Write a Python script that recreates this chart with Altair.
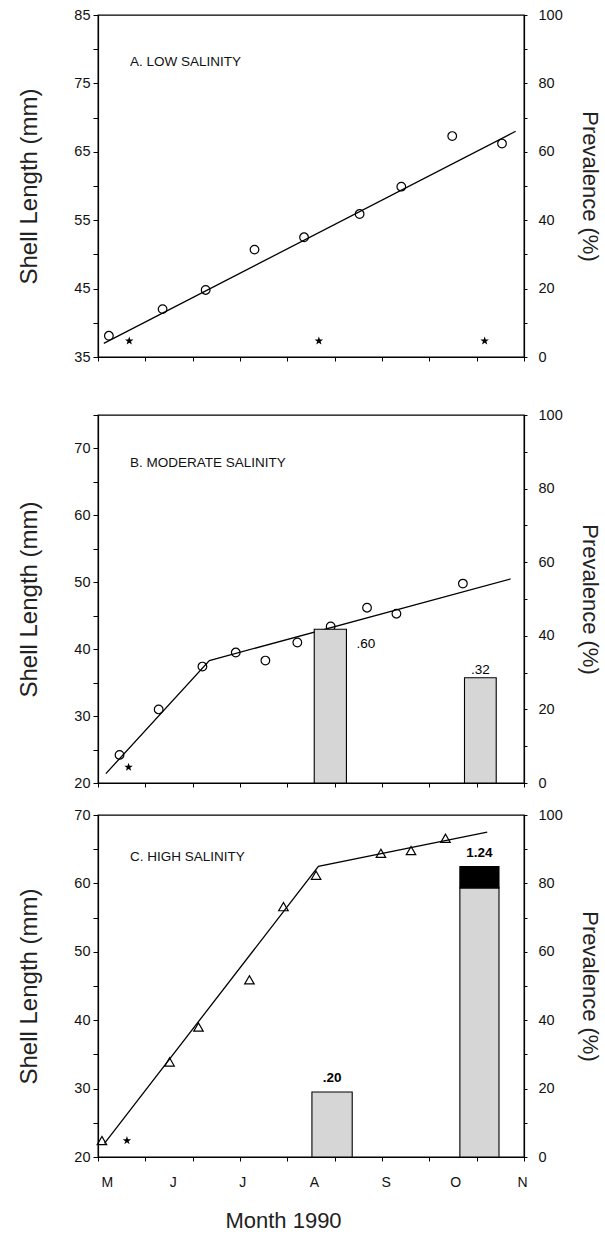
import altair as alt
import pandas as pd

# ---------------- data (x = days since 1 May 1990) ----------------
DAY_MAX = 184
month_pos = [0, 31, 61, 92, 123, 153, 184]
month_lab = ["M", "J", "J", "A", "S", "O", "N"]
x_ticks = [0, 20.4, 40.9, 61.3, 81.8, 102.2, 122.7, 143.1, 163.6, 184]

# Panel A: low salinity
a_day = [4.7, 27.9, 46.5, 67.6, 89.0, 113.0, 131.0, 153.0, 174.5]
a_len = [38.1, 42.0, 44.8, 50.7, 52.5, 55.9, 59.9, 67.3, 66.2]
a_fit_day = [2.5, 180.4]
a_fit_len = [37.0, 68.0]
a_star_day = [13.5, 95.4, 167.0]
a_star_prev = [4.7, 4.7, 4.7]

# Panel B: moderate salinity
b_day = [9.3, 26.2, 45.1, 59.5, 72.3, 86.1, 100.5, 116.2, 128.9, 157.6]
b_len = [24.2, 31.0, 37.4, 39.5, 38.3, 41.0, 43.4, 46.2, 45.3, 49.8]
b_fit_day = [3.4, 48.1, 178.2]
b_fit_len = [21.4, 38.3, 50.5]
b_star_day = [13.2]
b_star_prev = [4.3]
b_bar_start = [93.4, 158.3]
b_bar_end = [107.3, 172.0]
b_bar_prev = [41.8, 28.6]
b_bar_text = [".60", ".32"]

# Panel C: high salinity
c_day = [1.7, 30.9, 43.4, 65.4, 80.1, 94.2, 122.2, 135.2, 150.1]
c_len = [22.4, 33.9, 39.0, 45.9, 56.6, 61.2, 64.4, 64.8, 66.6]
c_fit_day = [2.8, 95.2, 168.1]
c_fit_len = [22.0, 62.5, 67.5]
c_star_day = [12.5]
c_star_prev = [4.8]
c_bar_start = [92.4, 156.3]
c_bar_end = [109.8, 173.2]
c_bar_prev = [19.0, 78.7]
c_bar_text = [".20", "1.24"]
c_cap_start = [156.3]
c_cap_end = [173.2]
c_cap_low = [78.7]
c_cap_high = [84.9]

STAR = ("M0,-1L0.235,-0.324L0.951,-0.309L0.380,0.124L0.588,0.809L0,0.4"
        "L-0.588,0.809L-0.380,0.124L-0.951,-0.309L-0.235,-0.324Z")
FONT = "Liberation Sans"
W = 426

xscale = alt.Scale(domain=[0, DAY_MAX], nice=False, zero=False)
pscale = alt.Scale(domain=[0, 100], nice=False, zero=False)

tick_axis = alt.Axis(orient="bottom", values=x_ticks, labels=False, ticks=True,
                     tickSize=4, domain=True, grid=False, title=None)
month_axis = alt.Axis(orient="bottom", values=month_pos,
                      labelExpr="['M','J','J','A','S','O','N'][indexof(%s, datum.value)]" % month_pos,
                      ticks=False, tickSize=0, domain=False, grid=False,
                      labelPadding=18, labelFontSize=14, labelFont=FONT, labelColor="#111",
                      labelOffset=3,
                      title="Month 1990", titleFontSize=22, titleFont=FONT,
                      titleFontWeight="normal", titleX=185, titlePadding=21, titleColor="#222")


def left_axis(vals, mod):
    return alt.Axis(orient="left", values=vals,
                    labelExpr="datum.value %% 10 == %d ? datum.label : ''" % mod,
                    title="Shell Length (mm)", titleFontSize=24, titleFont=FONT,
                    titleFontWeight="normal", titlePadding=32, titleColor="#222",
                    labelFontSize=14.5, labelFont=FONT, labelPadding=3, tickSize=5,
                    grid=False, domain=True)


right_axis = alt.Axis(orient="right", values=list(range(0, 101, 10)),
                      labelExpr="datum.value % 20 == 0 ? datum.label : ''",
                      title="Prevalence (%)", titleFontSize=22, titleFont=FONT,
                      titleFontWeight="normal", titleAngle=90, titlePadding=15,
                      titleColor="#222", labelFontSize=14.5, labelFont=FONT,
                      labelPadding=11, tickSize=3, grid=False, domain=True)


def panel(day, length, fit_day, fit_len, star_day, star_prev, ydom, yvals, ymod,
          height, shape, psize, title, title_y, bars=None, cap=None, labels=None,
          month=False):
    yscale = alt.Scale(domain=ydom, nice=False, zero=False)
    lax = left_axis(yvals, ymod)
    pts = pd.DataFrame({"day": day, "len": length})
    fit = pd.DataFrame({"day": fit_day, "len": fit_len})
    line = alt.Chart(fit).mark_line(color="black", strokeWidth=1.3).encode(
        x=alt.X("day:Q", scale=xscale, axis=tick_axis),
        y=alt.Y("len:Q", scale=yscale, axis=lax))
    points = alt.Chart(pts).mark_point(shape=shape, filled=False, size=psize,
                                       color="black", strokeWidth=1.2, opacity=1).encode(
        x=alt.X("day:Q", scale=xscale, axis=tick_axis),
        y=alt.Y("len:Q", scale=yscale, axis=lax))
    ttl = alt.Chart(pd.DataFrame({"t": [title]})).mark_text(
        align="left", baseline="middle", font=FONT, fontSize=13.5, color="#111").encode(
        text="t:N", x=alt.value(32), y=alt.value(title_y))
    left = alt.layer(line, points, ttl)

    stars = pd.DataFrame({"day": star_day, "prev": star_prev})
    xa = month_axis if month else None
    rlayers = [alt.Chart(stars).mark_point(shape=STAR, filled=True, size=80,
                                           color="black", opacity=1).encode(
        x=alt.X("day:Q", scale=xscale, axis=xa),
        y=alt.Y("prev:Q", scale=pscale, axis=right_axis))]
    if bars is not None:
        bdf = pd.DataFrame({"s": bars[0], "e": bars[1], "p": bars[2]})
        bdf["z"] = 0
        rlayers.append(alt.Chart(bdf).mark_rect(fill="#d6d6d6", stroke="black",
                                                strokeWidth=1.1).encode(
            x=alt.X("s:Q", scale=xscale, axis=xa), x2="e:Q",
            y=alt.Y("p:Q", scale=pscale, axis=right_axis), y2="z:Q"))
    if cap is not None:
        cdf = pd.DataFrame({"s": cap[0], "e": cap[1], "lo": cap[2], "hi": cap[3]})
        rlayers.append(alt.Chart(cdf).mark_rect(fill="black", stroke="black",
                                                strokeWidth=1.1).encode(
            x=alt.X("s:Q", scale=xscale, axis=xa), x2="e:Q",
            y=alt.Y("hi:Q", scale=pscale, axis=right_axis), y2="lo:Q"))
    if labels is not None:
        for lab in labels:
            ldf = pd.DataFrame({"s": [lab["s"]], "e": [lab["e"]], "p": [lab["p"]],
                                "t": [lab["t"]]})
            if lab["side"] == "right":
                mk = alt.Chart(ldf).mark_text(align="left", baseline="middle", dx=10,
                                              dy=lab["dy"], font=FONT, fontSize=13.5,
                                              fontWeight=lab["w"], color="black")
                xenc = alt.X("e:Q", scale=xscale, axis=xa)
            else:
                ldf["m"] = (ldf["s"] + ldf["e"]) / 2
                mk = alt.Chart(ldf).mark_text(align="center", baseline="bottom",
                                              dy=lab["dy"], font=FONT, fontSize=13.5,
                                              fontWeight=lab["w"], color="black")
                xenc = alt.X("m:Q", scale=xscale, axis=xa)
            rlayers.append(mk.encode(x=xenc, y=alt.Y("p:Q", scale=pscale, axis=right_axis),
                                     text="t:N"))
    right = alt.layer(*rlayers)
    return (alt.layer(left, right)
            .resolve_scale(y="independent")
            .resolve_axis(x="independent", y="independent")
            .properties(width=W, height=height))


pA = panel(a_day, a_len, a_fit_day, a_fit_len, a_star_day, a_star_prev,
           [35, 85], list(range(35, 86, 5)), 5, 342, "circle", 75,
           "A.  LOW SALINITY", 47)

pB = panel(b_day, b_len, b_fit_day, b_fit_len, b_star_day, b_star_prev,
           [20, 75], list(range(20, 76, 5)), 0, 368, "circle", 75,
           "B.  MODERATE SALINITY", 48,
           bars=(b_bar_start, b_bar_end, b_bar_prev),
           labels=[
               {"s": b_bar_start[0], "e": b_bar_end[0], "p": b_bar_prev[0],
                "t": b_bar_text[0], "side": "right", "dy": 15, "w": "normal"},
               {"s": b_bar_start[1], "e": b_bar_end[1], "p": b_bar_prev[1],
                "t": b_bar_text[1], "side": "top", "dy": -1, "w": "normal"}])

pC = panel(c_day, c_len, c_fit_day, c_fit_len, c_star_day, c_star_prev,
           [20, 70], list(range(20, 71, 5)), 0, 342, "triangle-up", 90,
           "C. HIGH SALINITY", 42,
           bars=(c_bar_start, c_bar_end, c_bar_prev),
           cap=(c_cap_start, c_cap_end, c_cap_low, c_cap_high),
           labels=[
               {"s": c_bar_start[0], "e": c_bar_end[0], "p": c_bar_prev[0],
                "t": c_bar_text[0], "side": "top", "dy": -7, "w": "bold"},
               {"s": c_cap_start[0], "e": c_cap_end[0], "p": c_cap_high[0],
                "t": c_bar_text[1], "side": "top", "dy": -7, "w": "bold"}],
           month=True)

top = alt.vconcat(pA, pB, spacing=41)
chart = (alt.vconcat(top, pC, spacing=15)
         .properties(padding={"left": 17, "top": 6, "right": 3, "bottom": 0},
                     background="white")
         .configure_view(stroke="black", strokeWidth=1.3)
         .configure_axis(domainColor="black", tickColor="black", labelColor="#111",
                         domainWidth=1.2, tickWidth=1))

chart.save("out.html", embed_options={"renderer": "svg", "actions": False})
